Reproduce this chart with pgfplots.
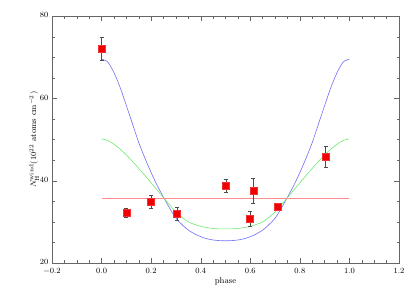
\documentclass[border=0pt]{standalone}
\usepackage{pgfplots}
\pgfplotsset{compat=1.18}
\definecolor{cblue}{RGB}{110,110,245}
\definecolor{cgreen}{RGB}{110,235,110}
\definecolor{cred}{RGB}{255,140,140}
\definecolor{cmark}{RGB}{240,0,0}
\begin{document}
\begin{tikzpicture}
\useasboundingbox (0pt,0pt) rectangle (415pt,297pt);
\begin{axis}[
  at={(52pt,34pt)}, anchor=south west,
  scale only axis, width=347pt, height=246.6pt,
  xmin=-0.2, xmax=1.2, ymin=20, ymax=80,
  xtick={-0.2,0,0.2,0.4,0.6,0.8,1.0,1.2},
  ytick={20,40,60,80},
  minor x tick num=3, minor y tick num=3,
  xticklabel style={yshift=-1.5pt, /pgf/number format/.cd,fixed,fixed zerofill,precision=1},
  yticklabel style={yshift=1pt},
  tick label style={font=\fontsize{8.5}{10}\selectfont},
  label style={font=\fontsize{8.5}{10}\selectfont},
  xlabel={phase},
  ylabel={$N_{\rm H}^{\rm wind}(10^{22}$ atoms cm$^{-2})$},
  xlabel style={yshift=3pt},
  ylabel style={yshift=-6pt},
  axis line style={gray!80!black, line width=0.5pt},
  tick style={gray!80!black, line width=0.4pt},
  major tick length=5pt, minor tick length=2.5pt,
  tick align=inside,
]
\addplot[cblue, line width=0.6pt, smooth, tension=0.5] coordinates {
(0,69.6)(0.025,68.9)(0.05,66.3)(0.075,62.7)(0.1,58.3)(0.125,53.8)(0.15,49.3)(0.175,45.5)(0.2,42.0)(0.225,38.8)(0.25,36.0)(0.275,33.3)(0.3,30.9)(0.325,29.3)(0.35,28.0)(0.375,27.1)(0.4,26.4)(0.425,25.9)(0.45,25.6)(0.475,25.45)(0.5,25.4)
(0.525,25.45)(0.55,25.6)(0.575,25.9)(0.6,26.4)(0.625,27.1)(0.65,28.0)(0.675,29.3)(0.7,30.9)(0.725,33.3)(0.75,36.0)(0.775,38.8)(0.8,42.0)(0.825,45.5)(0.85,49.3)(0.875,53.8)(0.9,58.3)(0.925,62.7)(0.95,66.3)(0.975,68.9)(1.0,69.6)};
\addplot[cgreen, line width=0.6pt, smooth, tension=0.5] coordinates {
(0,50.2)(0.025,49.8)(0.05,48.9)(0.075,47.7)(0.1,46.3)(0.125,44.7)(0.15,43.0)(0.175,41.3)(0.2,39.5)(0.225,37.7)(0.25,35.9)(0.275,34.1)(0.3,32.4)(0.325,31.1)(0.35,30.0)(0.375,29.4)(0.4,28.9)(0.425,28.6)(0.45,28.4)(0.475,28.3)(0.5,28.3)
(0.525,28.3)(0.55,28.4)(0.575,28.6)(0.6,28.9)(0.625,29.4)(0.65,30.0)(0.675,31.1)(0.7,32.4)(0.725,34.1)(0.75,35.9)(0.775,37.7)(0.8,39.5)(0.825,41.3)(0.85,43.0)(0.875,44.7)(0.9,46.3)(0.925,47.7)(0.95,48.9)(0.975,49.8)(1.0,50.2)};
\addplot[cred, line width=0.6pt] coordinates {(0,35.85)(1,35.85)};
\addplot[only marks, mark=square*, mark size=3.5pt, mark options={fill=cmark, draw=cmark!80!white},
  error bars/.cd, y dir=both, y explicit,
  error bar style={gray!60!black, line width=0.5pt},
  error mark options={rotate=90, gray!60!black, mark size=2pt, line width=0.5pt}]
 coordinates {
(0.0,72.2) +- (0,2.8)
(0.1,32.2) +- (0,1.1)
(0.2,34.9) +- (0,1.5)
(0.304,32.0) +- (0,1.5)
(0.502,38.8) +- (0,1.5)
(0.599,30.7) +- (0,1.8)
(0.612,37.6) +- (0,3.0)
(0.709,33.7) +- (0,0.9)
(0.904,45.8) +- (0,2.5)
};
\end{axis}
\end{tikzpicture}
\end{document}
